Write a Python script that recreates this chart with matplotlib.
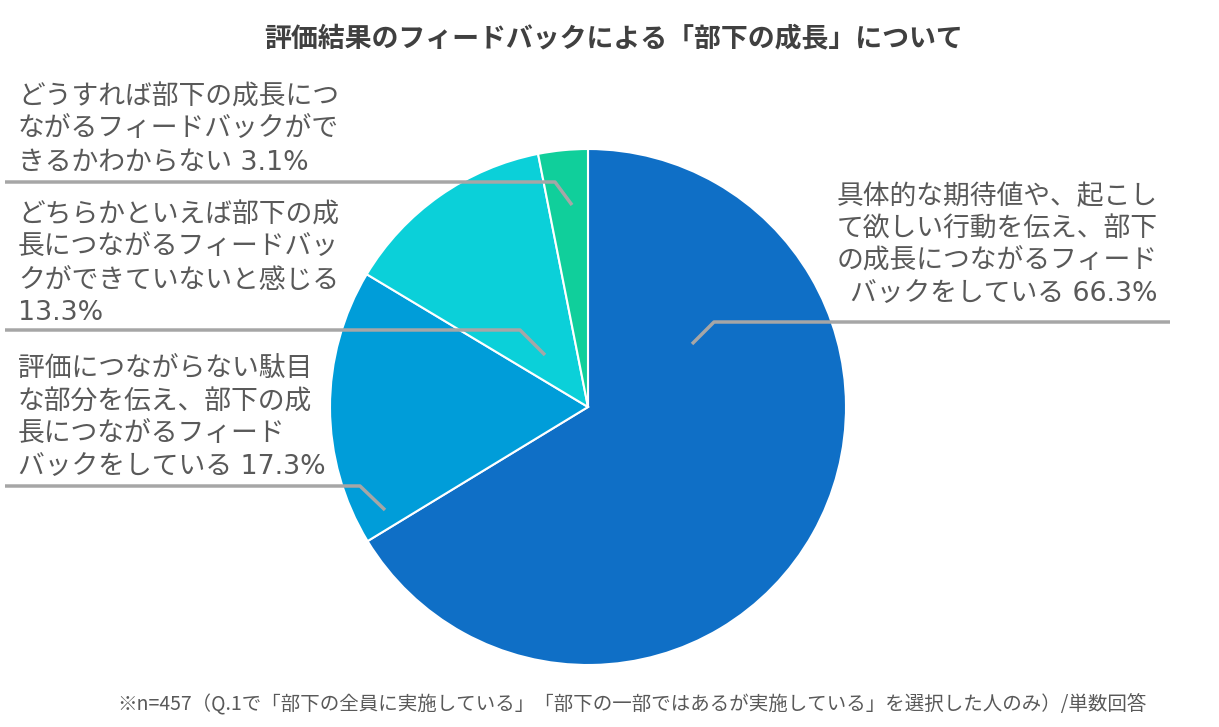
import matplotlib
matplotlib.use("Agg")
import matplotlib.pyplot as plt

plt.rcParams['font.family'] = ['Noto Sans CJK JP', 'DejaVu Sans']

# データ
labels = [
    "具体的な期待値や、起こし\nて欲しい行動を伝え、部下\nの成長につながるフィード\nバックをしている",
    "評価につながらない駄目\nな部分を伝え、部下の成\n長につながるフィード\nバックをしている",
    "どちらかといえば部下の成\n長につながるフィードバッ\nクができていないと感じる\n",
    "どうすれば部下の成長につ\nながるフィードバックがで\nきるかわからない",
]
values = [66.3, 17.3, 13.3, 3.1]
colors = ['#0F6FC6', '#009DD9', '#0BD0D9', '#10CF9B']

title = "評価結果のフィードバックによる「部下の成長」について"
note = "※n=457（Q.1で「部下の全員に実施している」「部下の一部ではあるが実施している」を選択した人のみ）/単数回答"

W, H = 1219, 727
fig = plt.figure(figsize=(W / 100, H / 100), dpi=100)
ax = fig.add_axes([0, 0, 1, 1])

cx, cy, r = 588, H - 407, 258
ax.pie(values, colors=colors, startangle=90, counterclock=False,
       center=(cx, cy), radius=r, frame=True,
       wedgeprops=dict(edgecolor='white', linewidth=1.5))
ax.set_xlim(0, W)
ax.set_ylim(0, H)
ax.set_aspect('equal')
ax.axis('off')

gray = '#A6A6A6'
txt = '#595959'

# 引き出し線 (画素座標)
leaders = [
    [(692, 344), (714, 322), (1170, 322)],
    [(385, 510), (360, 486), (5, 486)],
    [(545, 355), (520, 330), (5, 330)],
    [(572, 205), (555, 182), (5, 182)],
]
for pts in leaders:
    xs = [p[0] for p in pts]
    ys = [H - p[1] for p in pts]
    ax.plot(xs, ys, color=gray, lw=2.5, solid_capstyle='butt')

fs = 19.3
ls = 1.32
fam = ['DejaVu Sans', 'Noto Sans CJK JP']
# ラベル
ax.text(1158, H - 184, labels[0] + f" {values[0]}%", ha='right', va='top',
        multialignment='right', fontsize=fs, color=txt, linespacing=ls, family=fam)
ax.text(18, H - 357, labels[1] + f" {values[1]}%", ha='left', va='top',
        fontsize=fs, color=txt, linespacing=ls, family=fam)
ax.text(18, H - 203, labels[2] + f"{values[2]}%", ha='left', va='top',
        fontsize=fs, color=txt, linespacing=ls, family=fam)
ax.text(18, H - 85, labels[3] + f" {values[3]}%", ha='left', va='top',
        fontsize=fs, color=txt, linespacing=ls, family=fam)

ax.text(614, H - 38, title, ha='center', va='center', fontsize=19.4,
        fontweight='bold', color='#404040')
ax.text(632, H - 705, note, ha='center', va='center', fontsize=14,
        color=txt)

fig.savefig('out.png', dpi=100)
